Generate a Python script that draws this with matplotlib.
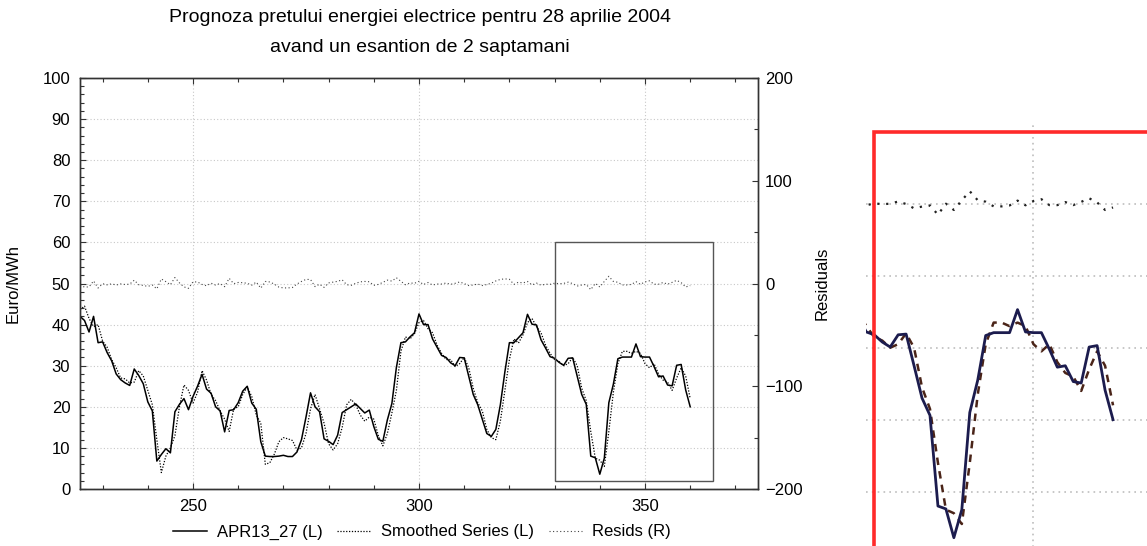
import numpy as np
import matplotlib
matplotlib.use("Agg")
import matplotlib.pyplot as plt
from matplotlib.lines import Line2D
from matplotlib.patches import Rectangle

plt.rcParams['font.family'] = ['Liberation Sans', 'DejaVu Sans']

# observation index (hours of the two-week sample)
time_index = np.arange(225, 361)

# observed price, Euro/MWh
apr13_27 = np.array([
    42.0, 41.0, 38.2, 42.0, 35.6, 35.8, 33.2, 31.2, 28.0, 26.6,
    25.8, 25.2, 29.2, 27.6, 25.6, 21.2, 19.0, 6.8, 8.4, 9.8,
    8.8, 18.8, 20.6, 22.0, 19.3, 22.5, 25.0, 27.9, 24.3, 23.3,
    20.0, 19.0, 13.9, 19.1, 19.3, 21.0, 23.8, 25.0, 20.9, 19.4,
    11.5, 8.0, 7.9, 7.9, 8.0, 8.2, 7.9, 7.9, 9.0, 12.0,
    17.5, 23.4, 20.0, 18.8, 12.2, 11.6, 10.8, 13.1, 18.6, 19.3,
    20.0, 20.7, 19.6, 18.5, 19.2, 15.2, 12.1, 11.6, 16.8, 20.8,
    29.6, 35.6, 35.8, 37.0, 38.0, 42.6, 40.0, 40.0, 36.5, 34.5,
    32.5, 32.0, 30.7, 30.0, 32.0, 31.9, 27.5, 23.0, 20.5, 17.0,
    13.5, 12.8, 14.5, 20.5, 28.5, 35.6, 35.6, 36.8, 38.0, 42.5,
    40.1, 39.9, 36.3, 34.3, 32.2, 31.8, 30.8, 30.1, 31.8, 31.9,
    27.5, 23.0, 20.6, 8.0, 7.6, 3.6, 7.5, 21.0, 25.5, 31.7,
    32.1, 32.1, 32.1, 35.3, 32.2, 32.1, 32.1, 29.8, 27.3, 27.5,
    25.3, 25.1, 30.1, 30.3, 24.1, 20.0,
])

# smoothed series (one-step forecasts), Euro/MWh
smoothed = np.array([
    43.6, 44.5, 41.5, 39.5, 40.0, 36.0, 34.5, 31.5, 29.5, 27.0,
    26.8, 25.8, 26.0, 28.8, 27.5, 24.0, 20.5, 12.0, 4.0, 8.0,
    10.0, 13.0, 20.0, 25.3, 24.0, 20.9, 23.5, 28.8, 26.5, 23.0,
    21.5, 19.0, 17.0, 14.0, 19.5, 20.0, 23.0, 24.8, 22.5, 18.0,
    16.0, 6.0, 6.4, 8.5, 11.5, 12.5, 12.2, 11.8, 9.5, 10.0,
    13.5, 19.5, 23.0, 19.5, 16.0, 11.0, 9.5, 11.0, 15.0, 20.5,
    21.8, 20.5, 18.0, 16.5, 17.5, 17.0, 13.0, 10.5, 13.5, 18.5,
    24.0, 33.5, 37.0, 36.5, 37.8, 40.5, 41.0, 39.0, 38.0, 35.0,
    33.0, 31.5, 31.5, 29.8, 30.5, 32.0, 29.5, 24.5, 21.0, 19.0,
    14.5, 12.5, 12.0, 16.5, 24.0, 31.5, 36.5, 35.5, 37.5, 40.5,
    41.5, 39.5, 38.0, 35.0, 33.0, 31.5, 31.0, 30.0, 30.5, 32.0,
    30.0, 24.5, 21.5, 14.0, 7.5, 7.0, 5.5, 14.0, 23.5, 30.5,
    33.5, 33.5, 33.0, 33.5, 33.0, 30.5, 29.5, 30.5, 28.0, 26.5,
    26.0, 24.0, 27.0, 29.5, 27.5, 22.0,
])

# residuals of the smoothed fit (right axis)
resids = apr13_27 - smoothed

x_ticks = [250, 300, 350]
left_ticks = list(range(0, 101, 10))
right_ticks = [-200, -100, 0, 100, 200]
legend_labels = ["APR13_27 (L)", "Smoothed Series (L)", "Resids (R)"]
title_lines = ["Prognoza pretului energiei electrice pentru 28 aprilie 2004",
               "avand un esantion de 2 saptamani"]
zoom_box = (330, 365, 2, 60)

W, H = 1147, 546
fig = plt.figure(figsize=(W / 100, H / 100), dpi=100)
fig.patch.set_facecolor("white")

def frac(x0, y0, x1, y1):
    return [x0 / W, 1 - y1 / H, (x1 - x0) / W, (y1 - y0) / H]

ax = fig.add_axes(frac(80, 78, 758, 489))
ax2 = ax.twinx()

solid_style = dict(color="black", lw=1.1, ls="-")
smooth_style = dict(color="black", lw=0.9, ls=(0, (1, 1.3)))
resid_style = dict(color="#444444", lw=0.8, ls=(0, (1, 2.2)))

ax.plot(time_index, apr13_27, **solid_style)
ax.plot(time_index, smoothed, **smooth_style)
ax2.plot(time_index, resids, **resid_style)

ax.set_xlim(225, 375)
ax.set_ylim(0, 100)
ax2.set_ylim(-200, 200)

ax.set_xticks(x_ticks)
ax.set_xticks(range(230, 375, 10), minor=True)
ax.set_yticks(left_ticks)
ax.set_yticks(range(0, 101, 2), minor=True)
ax2.set_yticks(right_ticks)
ax2.set_yticks(range(-200, 201, 50), minor=True)

for a in (ax, ax2):
    for s in a.spines.values():
        s.set_color("#333333")
        s.set_linewidth(1.0)

ax.tick_params(which="both", direction="in", top=True, labelsize=12,
               color="#333333", width=0.8)
ax.tick_params(which="major", length=4, pad=7)
ax.tick_params(which="minor", length=3)
ax2.tick_params(which="both", direction="in", labelsize=12,
                color="#333333", width=0.8, pad=5)
ax2.tick_params(which="major", length=4)
ax2.tick_params(which="minor", length=3)

grid_kw = dict(color="#c8c8c8", lw=0.8, ls=(0, (1, 2)))
ax.grid(True, axis="both", which="major", **grid_kw)
ax.set_axisbelow(True)

ax.set_ylabel("Euro/MWh", fontsize=12, labelpad=16)
ax2.set_ylabel("Residuals", fontsize=12, labelpad=9)

x0, x1, y0, y1 = zoom_box
ax.add_patch(Rectangle((x0, y0), x1 - x0, y1 - y0, fill=False,
                       ec="#555555", lw=1.0, zorder=3))

for i, line in enumerate(title_lines):
    fig.text(420 / W, 1 - (18 + 30 * i) / H, line, ha="center", va="center",
             fontsize=14)

handles = [Line2D([], [], **solid_style),
           Line2D([], [], **smooth_style),
           Line2D([], [], **resid_style)]
fig.legend(handles, legend_labels, loc="center", bbox_to_anchor=(422 / W, 1 - 532 / H),
           ncol=3, frameon=False, fontsize=12, handlelength=2.0,
           columnspacing=0.9, handletextpad=0.6)

# magnified view of the boxed region
axz = fig.add_axes(frac(866, 124, 1160, 560))
axz.set_xlim(328.96, 365.9)
axz.set_ylim(0.5, 61.1)
axz2 = axz.twinx()
axz2.set_ylim((0.5 - 50) * 4, (61.1 - 50) * 4)
axz.plot(time_index, apr13_27, color="#1c1c4e", lw=2.0, zorder=3)
axz.plot(time_index, smoothed, color="#4a2418", lw=1.8, ls=(0, (3, 2.5)), zorder=2)
axz2.plot(time_index, resids, color="#222222", lw=1.6, ls=(0, (1, 3)))
axz.set_xticks([350])
axz.set_yticks([10, 20, 30, 40, 50])
axz.grid(True, color="#bdbdbd", lw=1.2, ls=(0, (1, 2.5)))
for a in (axz, axz2):
    a.tick_params(length=0, labelleft=False, labelbottom=False, labelright=False)
    for s in a.spines.values():
        s.set_visible(False)
axz.add_patch(Rectangle((x0, y0), x1 - x0, y1 - y0, fill=False,
                        ec="#ff2a2a", lw=2.6, zorder=5))

fig.savefig("out.png", dpi=100)
